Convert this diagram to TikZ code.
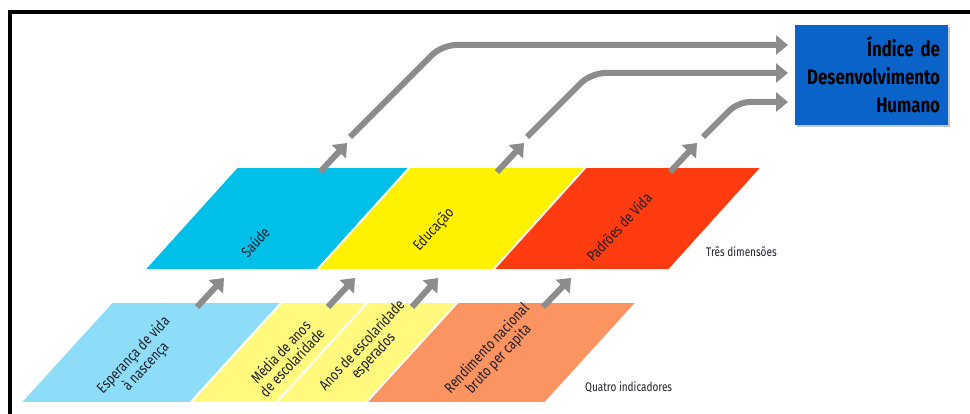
\documentclass[tikz,border=0pt]{standalone}
\usepackage{fontspec}
\setmainfont{Fira Sans}[FakeStretch=0.8]
\usetikzlibrary{arrows.meta,shadows}
\definecolor{saudeblue}{HTML}{00BFE9}
\definecolor{educyellow}{HTML}{FFF200}
\definecolor{vidared}{HTML}{FF3B0F}
\definecolor{esplight}{HTML}{8EDDF8}
\definecolor{escyellow}{HTML}{FFFA7D}
\definecolor{rendorange}{HTML}{FC9461}
\definecolor{flowgray}{HTML}{8C8C8C}
\definecolor{hdiblue}{HTML}{0A63C9}
\definecolor{labelink}{HTML}{1E1E2A}

\begin{document}
\begin{tikzpicture}[x=1pt,y=-1pt,>={Triangle[length=12pt,width=19pt]},
  band/.style={draw=white,line width=1.8pt},
  flow/.style={draw=flowgray,line width=6pt,->},
  lbl/.style={rotate=47,font=\fontsize{15}{15.5}\selectfont,text=labelink,align=center,inner sep=0pt},
  rowlbl/.style={font=\fontsize{12.5}{13}\selectfont,text=labelink,inner sep=0pt}]
\useasboundingbox (0,0) rectangle (970,414);
\draw[line width=4pt] (10,12) rectangle (1000,440);

\fill[band,fill=saudeblue] (144,270) -- (237,167) -- (410,167) -- (317,270) -- cycle;
\fill[band,fill=educyellow] (317,270) -- (410,167) -- (586,167) -- (493,270) -- cycle;
\fill[band,fill=vidared] (493,270) -- (586,167) -- (762,167) -- (669,270) -- cycle;

\fill[band,fill=esplight] (20,403) -- (112,302) -- (282,302) -- (190,403) -- cycle;
\fill[band,fill=escyellow] (190,403) -- (282,302) -- (368,302) -- (276,403) -- cycle;
\fill[band,fill=escyellow] (276,403) -- (368,302) -- (458,302) -- (366,403) -- cycle;
\fill[band,fill=rendorange] (366,403) -- (458,302) -- (637,302) -- (545,403) -- cycle;

\node[lbl] (saude) at (255,242) {Saúde};
\node[lbl] (educacao) at (434,230) {Educação};
\node[lbl] (padroes) at (619,227) {Padrões de Vida};
\node[rowlbl,anchor=west] (tres) at (706,252) {Três dimensões};

\node[lbl] (esperanca) at (140,361) {Esperança de vida\\à nascença};
\node[lbl] (media) at (286,357) {Média de anos\\de escolaridade};
\node[lbl] (anos) at (368,351) {Anos de escolaridade\\esperados};
\node[lbl] (rendimento) at (493,354) {Rendimento nacional\\bruto per capita};
\node[rowlbl,anchor=west] (quatro) at (585,387) {Quatro indicadores};

\node[fill=hdiblue,minimum width=153pt,minimum height=100pt,text width=137pt,align=right,inner xsep=8pt,
  font=\bfseries\fontsize{21}{28}\selectfont,text=black,
  drop shadow={shadow xshift=2pt,shadow yshift=-2pt,opacity=0.45}] (hdi) at (871.5,75)
  {Índice de\\Desenvolvimento\\Humano};

\coordinate (e1) at (197,307); \coordinate (s1) at (224,278);
\coordinate (e2) at (328,307); \coordinate (s2) at (355,278);
\coordinate (e3) at (412,307); \coordinate (s3) at (438,278);
\coordinate (e4) at (543,307); \coordinate (s4) at (571,278);
\draw[flow] (e1) -- (s1);
\draw[flow] (e2) -- (s2);
\draw[flow] (e3) -- (s3);
\draw[flow] (e4) -- (s4);

\coordinate (d1) at (320,172); \coordinate (u1) at (347,143); \coordinate (v1) at (350,137);
\coordinate (d2) at (497,172); \coordinate (u2) at (524,143); \coordinate (v2) at (527,137);
\coordinate (d3) at (670,172); \coordinate (u3) at (697,143); \coordinate (v3) at (703,137);
\coordinate (in1) at (788,45);
\coordinate (in2) at (788,73);
\coordinate (in3) at (788,102);
\draw[flow] (d1) -- (u1);
\draw[flow] (d2) -- (u2);
\draw[flow] (d3) -- (u3);
\draw[flow,rounded corners=14pt] (v1) -- (442,45) -- (in1);
\draw[flow,rounded corners=14pt] (v2) -- (591,73) -- (in2);
\draw[flow,rounded corners=12pt] (v3) -- (738,102) -- (in3);
\end{tikzpicture}
\end{document}
